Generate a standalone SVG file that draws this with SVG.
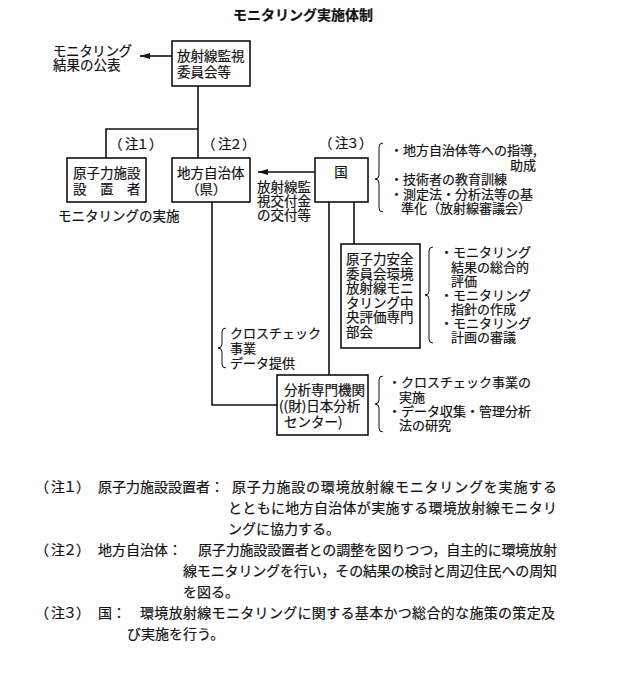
<svg xmlns="http://www.w3.org/2000/svg" width="621" height="673" viewBox="0 0 621 673">
<defs>
<style>
text{font-family:"Noto Sans CJK JP","Noto Sans CJK SC",sans-serif;fill:#111;stroke:#111;stroke-width:0.2px;}
.t{font-size:13.5px;}
.s{font-size:13px;}
.n{font-size:14px;}
.title{font-size:14px;font-weight:bold;}
.box{fill:#fff;stroke:#111;stroke-width:1.6;}
.conn{fill:none;stroke:#111;stroke-width:1.6;}
.brace{fill:none;stroke:#111;stroke-width:1;}
</style>
<marker id="ah" markerWidth="10" markerHeight="6" refX="10" refY="3" orient="auto" markerUnits="userSpaceOnUse">
<path d="M0,0 L10,3 L0,6 z" fill="#111"/>
</marker>
</defs>
<rect width="621" height="673" fill="#fff"/>

<text class="title" x="303" y="20" text-anchor="middle">モニタリング実施体制</text>

<g id="connectors">
<line class="conn" x1="172" y1="56" x2="140" y2="56" marker-end="url(#ah)"/>
<polyline class="conn" points="198,86 198,158"/>
<polyline class="conn" points="198,129 106,129 106,158"/>
<line class="conn" x1="315" y1="172" x2="258" y2="172" marker-end="url(#ah)"/>
<polyline class="conn" points="329,202 329,375"/>
<polyline class="conn" points="354,202 354,244"/>
<polyline class="conn" points="212,202 212,405 277,405"/>
</g>

<g id="publish-label">
<text class="t" x="53" y="56"><tspan x="53" textLength="79" lengthAdjust="spacing">モニタリング</tspan><tspan x="53" dy="14">結果の公表</tspan></text>
</g>

<g id="committee">
<rect class="box" x="172" y="41" width="78" height="45"/>
<text class="t" x="177" y="61"><tspan x="177">放射線監視</tspan><tspan x="177" dy="16">委員会等</tspan></text>
</g>

<g id="note-labels">
<text class="t" x="109 125 136 149" y="149">（注１）</text>
<text class="t" x="202 218 229 242" y="149">（注２）</text>
<text class="t" x="319 335 346 359" y="148">（注３）</text>
</g>

<g id="operator">
<rect class="box" x="67" y="158" width="79" height="44"/>
<text class="t" x="73" y="178"><tspan x="73">原子力施設</tspan><tspan x="73" dy="16">設　置　者</tspan></text>
</g>
<text class="t" x="58" y="221">モニタリングの実施</text>

<g id="local-gov">
<rect class="box" x="172" y="158" width="78" height="44"/>
<text class="t" x="177" y="178"><tspan x="177">地方自治体</tspan><tspan x="186" dy="16">（県）</tspan></text>
</g>

<g id="grant-label">
<text class="t" x="257" y="192"><tspan x="257">放射線監</tspan><tspan x="257" dy="14">視交付金</tspan><tspan x="257" dy="14">の交付等</tspan></text>
</g>

<g id="state">
<rect class="box" x="315" y="158" width="53" height="44"/>
<text class="t" x="341" y="177" text-anchor="middle">国</text>
</g>

<g id="state-roles">
<path class="brace" d="M383,143 Q379,143 379,147 L379,175 Q379,179 375,179 Q379,179 379,183 L379,208 Q379,212 383,212"/>
<text class="s" x="390" y="155"><tspan x="390">・地方自治体等への指導,</tspan><tspan x="510" dy="15">助成</tspan><tspan x="390" dy="14">・技術者の教育訓練</tspan><tspan x="390" dy="15">・測定法・分析法等の基</tspan><tspan x="401" dy="14">準化（放射線審議会）</tspan></text>
</g>

<g id="nsc">
<rect class="box" x="341" y="244" width="79" height="104"/>
<text class="t" x="346" y="264"><tspan x="346">原子力安全</tspan><tspan x="346" dy="15">委員会環境</tspan><tspan x="346" dy="14">放射線モニ</tspan><tspan x="346" dy="15">タリング中</tspan><tspan x="346" dy="14">央評価専門</tspan><tspan x="346" dy="15">部会</tspan></text>
</g>

<g id="nsc-roles">
<path class="brace" d="M433,247 Q429,247 429,251 L429,291 Q429,295 425,295 Q429,295 429,299 L429,339 Q429,343 433,343"/>
<text class="s" x="440" y="257"><tspan x="440">・モニタリング</tspan><tspan x="451" dy="15">結果の総合的</tspan><tspan x="451" dy="14">評価</tspan><tspan x="440" dy="14">・モニタリング</tspan><tspan x="451" dy="14">指針の作成</tspan><tspan x="440" dy="14">・モニタリング</tspan><tspan x="451" dy="14">計画の審議</tspan></text>
</g>

<g id="crosscheck-label">
<path class="brace" d="M226,328 Q222,328 222,332 L222,344 Q222,348 218,348 Q222,348 222,352 L222,364 Q222,368 226,368"/>
<text class="s" x="230" y="338"><tspan x="230">クロスチェック</tspan><tspan x="230" dy="15">事業</tspan><tspan x="230" dy="15">データ提供</tspan></text>
</g>

<g id="jcac">
<rect class="box" x="277" y="375" width="91" height="60"/>
<text class="t" x="284" y="395"><tspan x="284">分析専門機関</tspan><tspan x="279" dy="16">((財)日本分析</tspan><tspan x="284" dy="16">センター)</tspan></text>
</g>

<g id="jcac-roles">
<path class="brace" d="M383,376 Q379,376 379,380 L379,400 Q379,404 375,404 Q379,404 379,408 L379,428 Q379,432 383,432"/>
<text class="s" x="388" y="387"><tspan x="388">・クロスチェック事業の</tspan><tspan x="399" dy="15">実施</tspan><tspan x="388" dy="14">・データ収集・管理分析</tspan><tspan x="399" dy="14">法の研究</tspan></text>
</g>

<g id="notes">
<text class="n" x="35 51 63 76" y="492">（注１）</text>
<text class="n" x="98" y="492">原子力施設設置者：</text>
<text class="n" x="232" y="492"><tspan x="232" textLength="325" lengthAdjust="spacing">原子力施設の環境放射線モニタリングを実施する</tspan><tspan x="228" dy="21" textLength="329" lengthAdjust="spacing">とともに地方自治体が実施する環境放射線モニタリ</tspan><tspan x="228" dy="21">ングに協力する。</tspan></text>
<text class="n" x="35 51 63 76" y="555">（注２）</text>
<text class="n" x="98" y="555">地方自治体：</text>
<text class="n" x="198" y="555"><tspan x="198" textLength="359" lengthAdjust="spacing">原子力施設設置者との調整を図りつつ，自主的に環境放射</tspan><tspan x="183" dy="21" textLength="374" lengthAdjust="spacing">線モニタリングを行い，その結果の検討と周辺住民への周知</tspan><tspan x="183" dy="21">を図る。</tspan></text>
<text class="n" x="35 51 63 76" y="618">（注３）</text>
<text class="n" x="98" y="618">国：</text>
<text class="n" x="140" y="618"><tspan x="140" textLength="415" lengthAdjust="spacing">環境放射線モニタリングに関する基本かつ総合的な施策の策定及</tspan><tspan x="127" dy="21">び実施を行う。</tspan></text>
</g>
</svg>
